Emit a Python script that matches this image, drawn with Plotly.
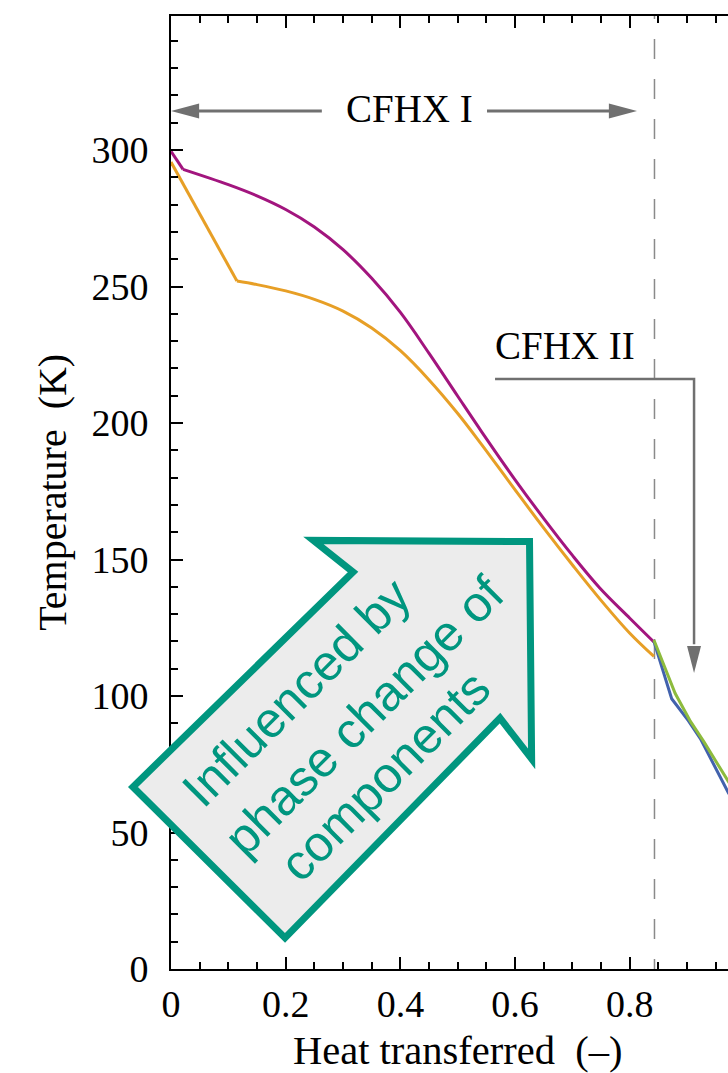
import plotly.graph_objects as go

# Temperature profiles along the counter-flow heat exchangers
# hot stream, CFHX I: short straight entry segment, then a smooth profile
heat_hot_in = [0, 0.021]
temp_hot_in = [299.5, 292.9]
heat_hot = [0.021, 0.1, 0.15, 0.2, 0.25, 0.3, 0.35, 0.4, 0.45, 0.5, 0.542,
            0.6, 0.65, 0.7, 0.748, 0.8, 0.842]
temp_hot = [292.9, 287.3, 283.2, 278.2, 271.8, 263.5, 253.0, 240.5, 225.5, 209.8, 196.7,
            179.2, 165.0, 151.5, 139.5, 128.5, 119.8]

# cold stream, CFHX I
heat_cold_in = [0, 0.115]
temp_cold_in = [295.6, 252]
heat_cold = [0.115, 0.15, 0.2, 0.25, 0.3, 0.35, 0.4, 0.45, 0.5, 0.542,
             0.6, 0.65, 0.7, 0.748, 0.8, 0.842]
temp_cold = [252.0, 250.7, 248.4, 245.3, 241.0, 234.8, 226.5, 215.8, 203.5, 192.0,
             175.5, 161.5, 148.0, 135.5, 123.0, 114.5]

# CFHX II streams
heat_ii_a = [0.842, 0.879, 0.906, 0.929, 0.972, 1.0]
temp_ii_a = [120.5, 101, 90.6, 83.3, 68.6, 60]

heat_ii_b = [0.842, 0.873, 0.902, 0.923, 0.972, 1.0]
temp_ii_b = [120, 99, 91, 84.4, 64.5, 55]

boundary_heat = 0.843

x_ticks = [0, 0.2, 0.4, 0.6, 0.8, 1.0]
x_tick_text = ["0", "0.2", "0.4", "0.6", "0.8", "1"]
y_ticks = [0, 50, 100, 150, 200, 250, 300]
y_tick_text = ["0", "50", "100", "150", "200", "250", "300"]

XMAX = 0.9712
YMAX = 349.1

SERIF = "Liberation Serif, Times New Roman, serif"
SANS = "Liberation Sans, Arial, sans-serif"
TEAL = "#00967f"
GRAY = "#707070"
PURPLE = "#a2157e"
ORANGE = "#e79f26"
LW = 3

fig = go.Figure()

# exchanger boundary
fig.add_trace(go.Scatter(
    x=[boundary_heat, boundary_heat], y=[-3.7, YMAX],
    mode="lines", line=dict(color="#8a8a8a", width=1.5, dash="20px,20px"),
    hoverinfo="skip", showlegend=False))

fig.add_trace(go.Scatter(x=heat_cold_in, y=temp_cold_in, mode="lines",
                         line=dict(color=ORANGE, width=LW), showlegend=False))
fig.add_trace(go.Scatter(x=heat_cold, y=temp_cold, mode="lines",
                         line=dict(color=ORANGE, width=LW, shape="spline", smoothing=1.0),
                         showlegend=False))
fig.add_trace(go.Scatter(x=heat_hot_in, y=temp_hot_in, mode="lines",
                         line=dict(color=PURPLE, width=LW), showlegend=False))
fig.add_trace(go.Scatter(x=heat_hot, y=temp_hot, mode="lines",
                         line=dict(color=PURPLE, width=LW, shape="spline", smoothing=1.0),
                         showlegend=False))
fig.add_trace(go.Scatter(x=heat_ii_b, y=temp_ii_b, mode="lines",
                         line=dict(color="#4262ad", width=LW), showlegend=False))
fig.add_trace(go.Scatter(x=heat_ii_a, y=temp_ii_a, mode="lines",
                         line=dict(color="#8dbb3d", width=LW), showlegend=False))


def tri(tip, base_c, half_w, horizontal):
    (tx, ty), (bx, by) = tip, base_c
    if horizontal:
        return f"M{tx},{ty} L{bx},{by + half_w} L{bx},{by - half_w} Z"
    return f"M{tx},{ty} L{bx + half_w},{by} L{bx - half_w},{by} Z"


shapes = []
# CFHX I span arrows
y_span = 314.3
shapes.append(dict(type="line", xref="x", yref="y", x0=0.263, x1=0.03,
                   y0=y_span, y1=y_span, line=dict(color=GRAY, width=3)))
shapes.append(dict(type="path", xref="x", yref="y",
                   path=tri((0.0, y_span), (0.049, y_span), 2.75, True),
                   fillcolor=GRAY, line=dict(width=0)))
shapes.append(dict(type="line", xref="x", yref="y", x0=0.551, x1=0.78,
                   y0=y_span, y1=y_span, line=dict(color=GRAY, width=3)))
shapes.append(dict(type="path", xref="x", yref="y",
                   path=tri((0.8125, y_span), (0.7635, y_span), 2.75, True),
                   fillcolor=GRAY, line=dict(width=0)))

# CFHX II leader
shapes.append(dict(type="path", xref="x", yref="y",
                   path="M0.565,216.1 L0.912,216.1 L0.912,119",
                   line=dict(color=GRAY, width=2.5)))
shapes.append(dict(type="path", xref="x", yref="y",
                   path=tri((0.912, 108.4), (0.912, 118.3), 0.0122, False),
                   fillcolor=GRAY, line=dict(width=0)))

# big block arrow (heat, temperature) vertices
block_arrow = [(0.6251, 156.6), (0.2481, 157.0), (0.3174, 145.4),
               (-0.0663, 66.7), (0.1988, 11.4), (0.5737, 91.9),
               (0.6288, 77.0)]
pts = [(x / XMAX, y / YMAX) for x, y in block_arrow]
path = "M" + " L".join(f"{a:.5f},{b:.5f}" for a, b in pts) + " Z"
shapes.append(dict(type="path", xref="x domain", yref="y domain", path=path,
                   fillcolor="#ececec", line=dict(color=TEAL, width=7),
                   layer="above"))

annotations = [
    dict(x=0.415, y=315.4, xref="x", yref="y", text="CFHX I", showarrow=False,
         font=dict(family=SERIF, size=39, color="black"),
         xanchor="center", yanchor="middle", bgcolor="white"),
    dict(x=0.687, y=228.4, xref="x", yref="y", text="CFHX II", showarrow=False,
         font=dict(family=SERIF, size=39, color="black"),
         xanchor="center", yanchor="middle"),
    dict(x=0.5, y=-0.086, xref="x", yref="paper", text="Heat transferred&#160;&#160;(–)",
         showarrow=False, font=dict(family=SERIF, size=40.5, color="black"),
         xanchor="center", yanchor="middle"),
    dict(x=-0.213, y=0.5, xref="paper", yref="paper", text="Temperature&#160;&#160;(K)",
         showarrow=False, textangle=-90, font=dict(family=SERIF, size=40, color="black"),
         xanchor="center", yanchor="middle"),
]

text_lines = [("Influenced by", 0.218, 101.1),
              ("phase change of", 0.3365, 92.7),
              ("components", 0.3731, 70.7)]
for txt, tx, ty in text_lines:
    annotations.append(dict(x=tx / XMAX, y=ty / YMAX, xref="x domain", yref="y domain",
                            text=txt, showarrow=False, textangle=-45,
                            font=dict(family=SANS, size=50, color=TEAL),
                            xanchor="center", yanchor="middle"))

fig.update_layout(
    width=728, height=1073,
    margin=dict(l=171, r=0, t=16, b=104),
    paper_bgcolor="white", plot_bgcolor="white",
    shapes=shapes, annotations=annotations,
    showlegend=False,
)

fig.update_xaxes(
    range=[0, XMAX], showgrid=False, zeroline=False,
    showline=True, linecolor="black", linewidth=2, mirror="ticks",
    ticks="inside", ticklen=12, tickwidth=2, tickcolor="black",
    tickvals=x_ticks, ticktext=x_tick_text,
    tickfont=dict(family=SERIF, size=38, color="black"),
    minor=dict(ticks="inside", dtick=0.05, ticklen=7, tickwidth=2,
               tickcolor="black", showgrid=False),
)
fig.update_yaxes(
    range=[0, YMAX], showgrid=False, zeroline=False,
    showline=True, linecolor="black", linewidth=2,
    ticks="inside", ticklen=12, tickwidth=2, tickcolor="black",
    tickvals=y_ticks, ticktext=y_tick_text, ticklabelstandoff=13,
    tickfont=dict(family=SERIF, size=38, color="black"),
    minor=dict(ticks="inside", dtick=10, ticklen=7, tickwidth=2,
               tickcolor="black", showgrid=False),
)

fig.write_html("out.html")
